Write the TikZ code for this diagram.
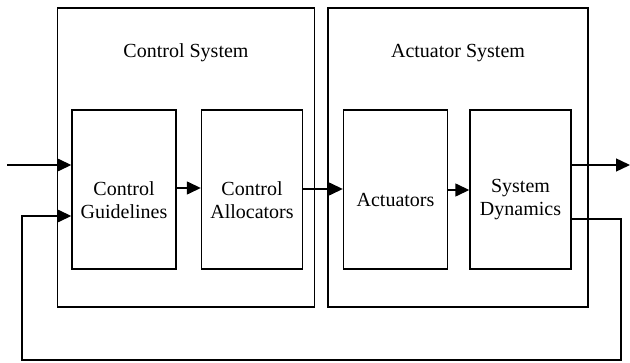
\documentclass[tikz,border=0pt]{standalone}
\usepackage{fontspec}
\setmainfont{Liberation Serif}
\usetikzlibrary{arrows.meta}
\begin{document}
\begin{tikzpicture}[x=1pt,y=-1pt,
  box/.style={draw,line width=1.4pt,rectangle,inner sep=0pt},
  lbl/.style={font=\fontsize{20}{23}\selectfont,align=center},
  conn/.style={line width=1.4pt},
  arr/.style={conn,-{Triangle[length=14pt,width=13pt]}}]
\useasboundingbox (0,0) rectangle (630,363);
% outer boxes
\node[box,minimum width=257pt,minimum height=299pt] (cs) at (186,157.5) {};
\node[box,minimum width=260pt,minimum height=299pt] (as) at (458,157.5) {};
\node[lbl] at (186,53) {Control System};
\node[lbl] at (458,53) {Actuator System};
% inner boxes
\node[box,minimum width=104pt,minimum height=159pt] (cg) at (124,189.5) {};
\node[box,minimum width=101pt,minimum height=159pt] (ca) at (252,189.5) {};
\node[box,minimum width=104pt,minimum height=159pt] (ac) at (395.5,189.5) {};
\node[box,minimum width=101pt,minimum height=159pt] (sd) at (520.5,189.5) {};
\node[lbl] at (124,200) {Control\\Guidelines};
\node[lbl] at (252,200) {Control\\Allocators};
\node[lbl] at (395.5,200) {Actuators};
\node[lbl] at (520.5,200) {System\\Dynamics};
% connectors
\coordinate (in) at (7,165);
\coordinate (out) at (630,165);
\coordinate (fr) at (621,219);
\coordinate (fl) at (22,216);
\draw[arr] (in) -- (in -| cg.west);
\draw[arr] (cg.east |- 0,188) -- (ca.west |- 0,188);
\draw[arr] (ca.east |- 0,189) -- (ac.west |- 0,189);
\draw[arr] (ac.east |- 0,190) -- (sd.west |- 0,190);
\draw[arr] (sd.east |- out) -- (out);
\draw[arr] (sd.east |- fr) -- (fr) -- (621,360) -- (22,360) -- (fl) -- (fl -| cg.west);
\end{tikzpicture}
\end{document}
